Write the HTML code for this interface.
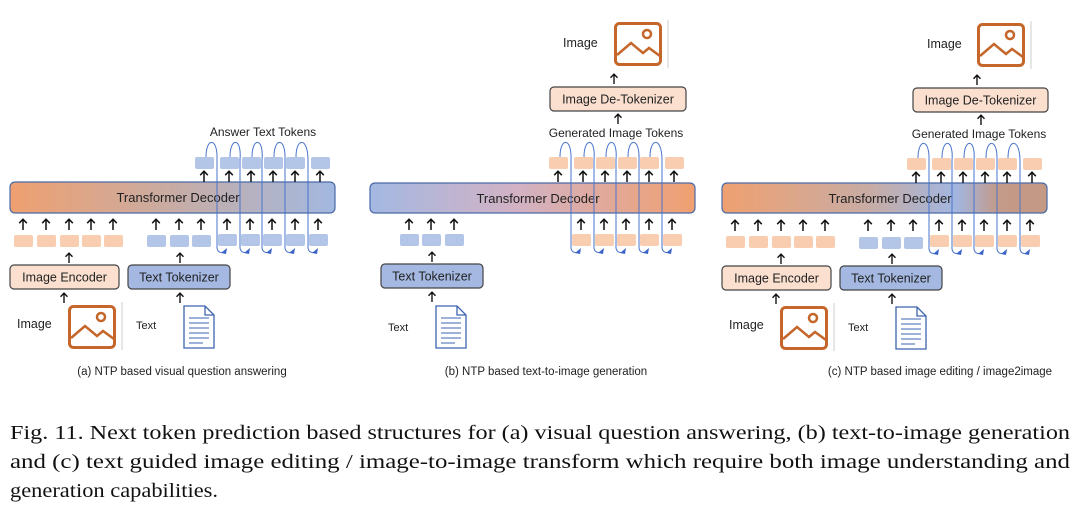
<!DOCTYPE html>
<html><head><meta charset="utf-8"><style>
html,body{margin:0;padding:0;background:#fff;width:1080px;height:513px;overflow:hidden}
svg{display:block}
.t{font-family:"Liberation Sans",sans-serif;fill:#222}
.cap{font-family:"Liberation Serif",serif;font-size:20.5px;fill:#111}
</style></head><body>
<svg width="1080" height="513" viewBox="0 0 1080 513" xmlns="http://www.w3.org/2000/svg">
<defs>
<linearGradient id="gA" x1="0" x2="1"><stop offset="0" stop-color="#efa070"/><stop offset="0.5" stop-color="#c8aca4"/><stop offset="1" stop-color="#a2b8e0"/></linearGradient>
<linearGradient id="gB" x1="0" x2="1"><stop offset="0" stop-color="#a4b8e2"/><stop offset="0.45" stop-color="#d2b2c4"/><stop offset="1" stop-color="#f0a070"/></linearGradient>
<linearGradient id="gC" x1="0" x2="1"><stop offset="0" stop-color="#efa070"/><stop offset="0.45" stop-color="#c8aca4"/><stop offset="0.72" stop-color="#a2b6e0"/><stop offset="0.85" stop-color="#c49a88"/><stop offset="1" stop-color="#c49a85"/></linearGradient>
<symbol id="ar" viewBox="0 0 10 12" overflow="visible"><path d="M5 12V1.5M1.2 5.2L5 1.2L8.8 5.2" stroke="#111" stroke-width="1.5" fill="none"/></symbol>
<g id="img">
<rect x="1.5" y="1.5" width="45" height="41" rx="4" fill="none" stroke="#c5662a" stroke-width="3"/>
<circle cx="33" cy="12" r="4" fill="none" stroke="#c5662a" stroke-width="2.5"/>
<path d="M3 33L17 21L29 31L35 26L46 34" fill="none" stroke="#c5662a" stroke-width="2.5"/>
</g>
<g id="doc">
<path d="M1 1H22L31 10V43H1Z" fill="#fff" stroke="#3d63b0" stroke-width="1.3"/>
<path d="M22 1V10H31" fill="none" stroke="#3d63b0" stroke-width="1.3"/>
<path d="M6 13H26M6 18H26M6 23H26M6 28H26M6 33H26M6 38H20" stroke="#3d63b0" stroke-width="1"/>
</g>
<g id="loops">
<rect x="195" y="157" width="19" height="12" rx="2"/><rect x="220" y="157" width="19" height="12" rx="2"/><rect x="242" y="157" width="19" height="12" rx="2"/><rect x="264" y="157" width="19" height="12" rx="2"/><rect x="286" y="157" width="19" height="12" rx="2"/><rect x="311" y="157" width="19" height="12" rx="2"/>
<rect x="218" y="234" width="19" height="12" rx="2"/><rect x="241" y="234" width="19" height="12" rx="2"/><rect x="263" y="234" width="19" height="12" rx="2"/><rect x="286" y="234" width="19" height="12" rx="2"/><rect x="309" y="234" width="19" height="12" rx="2"/>
<use href="#ar" x="199" y="170" width="10" height="12"/><use href="#ar" x="224" y="170" width="10" height="12"/><use href="#ar" x="246" y="170" width="10" height="12"/><use href="#ar" x="268" y="170" width="10" height="12"/><use href="#ar" x="290" y="170" width="10" height="12"/><use href="#ar" x="315" y="170" width="10" height="12"/>
<use href="#ar" x="222" y="218" width="10" height="12"/><use href="#ar" x="245" y="218" width="10" height="12"/><use href="#ar" x="267" y="218" width="10" height="12"/><use href="#ar" x="290" y="218" width="10" height="12"/><use href="#ar" x="313" y="218" width="10" height="12"/>
<g fill="none" stroke="#4a74cc" stroke-width="1">
<path d="M206 157C206 137 218 137 217 160L217 248Q218 254 225 252"/>
<path d="M230 157C230 137 242 137 240 160L240 248Q241 254 248 252"/>
<path d="M252 157C252 137 264 137 262 160L262 248Q263 254 270 252"/>
<path d="M274 157C274 137 286 137 285 160L285 248Q286 254 293 252"/>
<path d="M296 157C296 137 308 137 308 160L308 248Q309 254 316 252"/>
</g>
<g fill="#3a64c8" stroke="none">
<path d="M221 253L227 248L226 254Z"/><path d="M244 253L250 248L249 254Z"/><path d="M266 253L272 248L271 254Z"/><path d="M289 253L295 248L294 254Z"/><path d="M312 253L318 248L317 254Z"/>
</g>
</g>
</defs>
<g id="panelA">
<rect x="10" y="182" width="325" height="31" rx="5" fill="url(#gA)" stroke="#4a6aa8" stroke-width="1.2"/>
<text class="t" x="178" y="202" font-size="13" text-anchor="middle">Transformer Decoder</text>
<g fill="#f8cdb0"><rect x="14" y="235" width="19" height="12" rx="2"/><rect x="37" y="235" width="19" height="12" rx="2"/><rect x="60" y="235" width="19" height="12" rx="2"/><rect x="82" y="235" width="19" height="12" rx="2"/><rect x="104" y="235" width="19" height="12" rx="2"/></g>
<g fill="#b4c6e8"><rect x="147" y="235" width="19" height="12" rx="2"/><rect x="170" y="235" width="19" height="12" rx="2"/><rect x="192" y="235" width="19" height="12" rx="2"/></g>
<use href="#ar" x="18" y="218" width="10" height="12"/><use href="#ar" x="41" y="218" width="10" height="12"/><use href="#ar" x="64" y="218" width="10" height="12"/><use href="#ar" x="86" y="218" width="10" height="12"/><use href="#ar" x="108" y="218" width="10" height="12"/>
<use href="#ar" x="151" y="218" width="10" height="12"/><use href="#ar" x="174" y="218" width="10" height="12"/><use href="#ar" x="196" y="218" width="10" height="12"/>
<use href="#ar" x="64" y="252" width="10" height="11"/><use href="#ar" x="175" y="252" width="10" height="11"/>
<rect x="10" y="265" width="109" height="24" rx="4" fill="#fbe0d0" stroke="#444" stroke-width="1.2"/>
<text class="t" x="64.5" y="281.5" font-size="12.5" text-anchor="middle">Image Encoder</text>
<rect x="128" y="265" width="102" height="24" rx="4" fill="#a4b8e2" stroke="#444" stroke-width="1.2"/>
<text class="t" x="179" y="281.5" font-size="12.5" text-anchor="middle">Text Tokenizer</text>
<use href="#ar" x="59" y="292" width="10" height="11"/><use href="#ar" x="175" y="292" width="10" height="11"/>
<text class="t" x="17" y="328" font-size="12.5" fill="#444">Image</text>
<use href="#img" transform="translate(68,305)"/>
<line x1="122" y1="302" x2="122" y2="350" stroke="#ccc"/>
<text class="t" x="136" y="329" font-size="11" fill="#444">Text</text>
<use href="#doc" transform="translate(183,305)"/>
<use href="#loops" fill="#b4c6e8"/>
<text class="t" x="263" y="136" font-size="12" text-anchor="middle">Answer Text Tokens</text>
<text class="t" x="182" y="375" font-size="11.5" text-anchor="middle">(a) NTP based visual question answering</text>
</g>
<rect x="370" y="183" width="325" height="30" rx="5" fill="url(#gB)" stroke="#4a6aa8" stroke-width="1.2"/>
<text class="t" x="538" y="203" font-size="13" text-anchor="middle">Transformer Decoder</text>
<g transform="translate(354,0)"><use href="#loops" fill="#f8cdb0"/></g>
<g fill="#b4c6e8"><rect x="400" y="234" width="19" height="12" rx="2"/><rect x="422" y="234" width="19" height="12" rx="2"/><rect x="445" y="234" width="19" height="12" rx="2"/></g>
<use href="#ar" x="404" y="218" width="10" height="12"/><use href="#ar" x="426" y="218" width="10" height="12"/><use href="#ar" x="449" y="218" width="10" height="12"/>
<use href="#ar" x="427" y="251" width="10" height="11"/>
<rect x="381" y="264" width="102" height="24" rx="4" fill="#a4b8e2" stroke="#444" stroke-width="1.2"/>
<text class="t" x="432" y="280.5" font-size="12.5" text-anchor="middle">Text Tokenizer</text>
<use href="#ar" x="427" y="291" width="10" height="11"/>
<text class="t" x="388" y="331" font-size="11" fill="#444">Text</text>
<use href="#doc" transform="translate(435,305)"/>
<text class="t" x="616" y="137" font-size="12" text-anchor="middle">Generated Image Tokens</text>
<use href="#ar" x="613" y="113" width="10" height="11"/>
<rect x="550" y="87" width="136" height="24" rx="4" fill="#fbe0d0" stroke="#444" stroke-width="1.2"/>
<text class="t" x="618" y="103.5" font-size="12.5" text-anchor="middle">Image De-Tokenizer</text>
<use href="#ar" x="609" y="73" width="10" height="11"/>
<text class="t" x="563" y="47" font-size="12.5" fill="#444">Image</text>
<use href="#img" transform="translate(614,22)"/>
<line x1="668" y1="20" x2="668" y2="68" stroke="#ccc"/>
<text class="t" x="546" y="375" font-size="11.5" text-anchor="middle">(b) NTP based text-to-image generation</text>
<g transform="translate(712,1)">
<rect x="10" y="182" width="325" height="30" rx="5" fill="url(#gC)" stroke="#4a6aa8" stroke-width="1.2"/>
<text class="t" x="178" y="202" font-size="13" text-anchor="middle">Transformer Decoder</text>
<g fill="#f8cdb0"><rect x="14" y="235" width="19" height="12" rx="2"/><rect x="37" y="235" width="19" height="12" rx="2"/><rect x="60" y="235" width="19" height="12" rx="2"/><rect x="82" y="235" width="19" height="12" rx="2"/><rect x="104" y="235" width="19" height="12" rx="2"/></g>
<g fill="#b4c6e8"><rect x="147" y="236" width="19" height="12" rx="2"/><rect x="170" y="236" width="19" height="12" rx="2"/><rect x="192" y="236" width="19" height="12" rx="2"/></g>
<use href="#ar" x="18" y="218" width="10" height="12"/><use href="#ar" x="41" y="218" width="10" height="12"/><use href="#ar" x="64" y="218" width="10" height="12"/><use href="#ar" x="86" y="218" width="10" height="12"/><use href="#ar" x="108" y="218" width="10" height="12"/>
<use href="#ar" x="151" y="218" width="10" height="12"/><use href="#ar" x="174" y="218" width="10" height="12"/><use href="#ar" x="196" y="218" width="10" height="12"/>
<use href="#ar" x="64" y="252" width="10" height="11"/><use href="#ar" x="175" y="252" width="10" height="11"/>
<rect x="10" y="265" width="109" height="24" rx="4" fill="#fbe0d0" stroke="#444" stroke-width="1.2"/>
<text class="t" x="64.5" y="281.5" font-size="12.5" text-anchor="middle">Image Encoder</text>
<rect x="128" y="265" width="102" height="24" rx="4" fill="#a4b8e2" stroke="#444" stroke-width="1.2"/>
<text class="t" x="179" y="281.5" font-size="12.5" text-anchor="middle">Text Tokenizer</text>
<use href="#ar" x="59" y="292" width="10" height="11"/><use href="#ar" x="175" y="292" width="10" height="11"/>
<text class="t" x="17" y="328" font-size="12.5" fill="#444">Image</text>
<use href="#img" transform="translate(68,305)"/>
<line x1="122" y1="302" x2="122" y2="350" stroke="#ccc"/>
<text class="t" x="136" y="330" font-size="11" fill="#444">Text</text>
<use href="#doc" transform="translate(183,305)"/>
<use href="#loops" fill="#f8cdb0"/>
</g>
<text class="t" x="979" y="138" font-size="12" text-anchor="middle">Generated Image Tokens</text>
<use href="#ar" x="976" y="114" width="10" height="11"/>
<rect x="913" y="88" width="135" height="24" rx="4" fill="#fbe0d0" stroke="#444" stroke-width="1.2"/>
<text class="t" x="980.5" y="104.5" font-size="12.5" text-anchor="middle">Image De-Tokenizer</text>
<use href="#ar" x="972" y="74" width="10" height="11"/>
<text class="t" x="927" y="48" font-size="12.5" fill="#444">Image</text>
<use href="#img" transform="translate(977,23)"/>
<line x1="1031" y1="21" x2="1031" y2="69" stroke="#ccc"/>
<text class="t" x="940" y="375" font-size="11.5" text-anchor="middle">(c) NTP based image editing / image2image</text>
<text class="cap" x="10" y="439" textLength="1060" lengthAdjust="spacingAndGlyphs">Fig. 11.  Next token prediction based structures for (a) visual question answering, (b) text-to-image generation</text>
<text class="cap" x="10" y="468" textLength="1060" lengthAdjust="spacingAndGlyphs">and (c) text guided image editing / image-to-image transform which require both image understanding and</text>
<text class="cap" x="10" y="497" textLength="208" lengthAdjust="spacingAndGlyphs">generation capabilities.</text>
</svg>
</body></html>
